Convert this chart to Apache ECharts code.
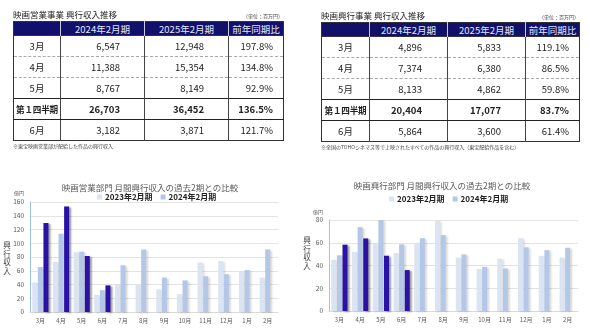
<!DOCTYPE html>
<html>
<head>
<meta charset="utf-8">
<script src="https://cdn.jsdelivr.net/npm/echarts@6/dist/echarts.min.js"></script>
<style>
  html, body { margin: 0; padding: 0; background: #fff; }
  #wrap { position: relative; width: 590px; height: 335px; overflow: hidden;
          font-family: 'Noto Sans CJK JP', 'Noto Sans', sans-serif; }
  #chart { position: absolute; left: 0; top: 0; width: 590px; height: 335px; }
  .ttl { position: absolute; font-size: 8.5px; color: #222; white-space: nowrap; }
  .unit { position: absolute; font-size: 5px; color: #444; white-space: nowrap; }
  .note { position: absolute; font-size: 5px; color: #444; white-space: nowrap; }
  table.tb { position: absolute; border-collapse: collapse; table-layout: fixed;
             border: 1px solid #333; font-size: 9.5px; line-height: 12px; color: #222; }
  table.tb th { background: #11116c; color: #e4e6f5; font-weight: normal; height: 13px;
                padding: 0; border-left: 1px solid #c9cce0; text-align: center; white-space: nowrap; }
  table.tb th:first-child { border-left: none; }
  table.tb td { height: 20px; padding: 0; border-left: 1px solid #444; white-space: nowrap;
                border-top: 1px dashed #aaa; text-align: right; overflow: hidden; }
  table.tb td:first-child { text-align: center; border-left: 1px solid #333; }
  table.tb tr.q td { border-top: 1px solid #222; border-bottom: 1px solid #222; font-weight: bold; }
  table.tb tr.q td:first-child { font-size: 8.6px; letter-spacing: -0.2px; }
  table.tb tr.first td { border-top: 1px solid #333; }
</style>
</head>
<body>
<div id="wrap">
  <div id="chart"></div>
</div>
<script>
// ---- table data (百万円) ----
const tableRows   = ['3月', '4月', '5月', '第１四半期', '6月'];
const tableHeads  = ['', '2024年2月期', '2025年2月期', '前年同期比'];
const salesPrev   = [6547, 11388, 8767, 26703, 3182];
const salesCur    = [12948, 15354, 8149, 36452, 3871];
const salesRatio  = [197.8, 134.8, 92.9, 136.5, 121.7];
const showPrev    = [4896, 7374, 8133, 20404, 5864];
const showCur     = [5833, 6380, 4862, 17077, 3600];
const showRatio   = [119.1, 86.5, 59.8, 83.7, 61.4];

// ---- chart data (億円) ----
const months = ['3月', '4月', '5月', '6月', '7月', '8月', '9月', '10月', '11月', '12月', '1月', '2月'];
const sales2023 = [43, 73, 87, 25, 40, 40, 33, 26, 72, 74, 59, 50];
const sales2024 = [65.5, 113.9, 87.7, 31.8, 68, 91, 50, 46, 52, 55, 61, 91];
const sales2025 = [129.5, 153.5, 81.5, 38.7, null, null, null, null, null, null, null, null];
const show2023  = [45, 52, 60, 51, 60, 79, 47, 37, 46, 64, 48.5, 47];
const show2024  = [49, 73.7, 81.3, 58.6, 64, 66.8, 49.7, 38.8, 37.4, 56, 53.5, 55.6];
const show2025  = [58.3, 63.8, 48.6, 36.0, null, null, null, null, null, null, null, null];
const salesTicks = [0, 160, 20];
const showTicks  = [0, 80, 20];

const wrap = document.getElementById('wrap');

function fmt(n) { return n.toLocaleString('en-US'); }

function addTable(cfg) {
  const t = document.createElement('div');
  t.className = 'ttl';
  t.style.left = cfg.x + 'px'; t.style.top = (cfg.y - 13) + 'px';
  t.textContent = cfg.title;
  wrap.appendChild(t);

  const u = document.createElement('div');
  u.className = 'unit';
  u.style.right = (590 - cfg.x - cfg.widths.reduce((a, b) => a + b, 0)) + 'px';
  u.style.top = (cfg.y - 9) + 'px';
  u.textContent = '（単位：百万円）';
  wrap.appendChild(u);

  const tb = document.createElement('table');
  tb.className = 'tb';
  tb.style.left = cfg.x + 'px'; tb.style.top = cfg.y + 'px';
  let html = '<colgroup>' + cfg.widths.map(w => `<col style="width:${w}px">`).join('') + '</colgroup>';
  html += '<tr>' + tableHeads.map(h => `<th>${h}</th>`).join('') + '</tr>';
  tableRows.forEach((r, i) => {
    const cls = i === 3 ? 'q' : (i === 0 ? 'first' : '');
    html += `<tr class="${cls}"><td>${r}</td>` +
      `<td style="padding-right:${cfg.pad[0]}px">${fmt(cfg.prev[i])}</td>` +
      `<td style="padding-right:${cfg.pad[1]}px">${fmt(cfg.cur[i])}</td>` +
      `<td style="padding-right:${cfg.pad[2]}px">${cfg.ratio[i].toFixed(1)}%</td></tr>`;
  });
  tb.innerHTML = html;
  wrap.appendChild(tb);

  const n = document.createElement('div');
  n.className = 'note';
  n.style.left = cfg.x + 'px'; n.style.top = (cfg.y + 121) + 'px';
  n.textContent = cfg.note;
  wrap.appendChild(n);
}

addTable({ x: 13, y: 21, widths: [47, 84, 84, 55], pad: [24, 24, 10],
  title: '映画営業事業 興行収入推移', prev: salesPrev, cur: salesCur, ratio: salesRatio,
  note: '※東宝映画営業部が配給した作品の興行収入' });
addTable({ x: 321, y: 22, widths: [48, 78, 78, 54], pad: [25, 24, 10],
  title: '映画興行事業 興行収入推移', prev: showPrev, cur: showCur, ratio: showRatio,
  note: '※全国のTOHOシネマズ等で上映されたすべての作品の興行収入（東宝配給作品を含む）' });

const LIGHT = '#dbe4f3', MID = '#b4c7e7', DARK = '#2b12a6';
const font = 'Noto Sans CJK JP';

function xAxisFor(idx) {
  return {
    gridIndex: idx, type: 'category', data: months,
    axisLine: { lineStyle: { color: '#d9d9d9' } },
    axisTick: { show: false },
    axisLabel: { fontSize: 6, color: '#595959', margin: 6 },
  };
}
function yAxisFor(idx, ticks) {
  return {
    gridIndex: idx, type: 'value', min: ticks[0], max: ticks[1], interval: ticks[2],
    axisLine: { show: true, lineStyle: { color: '#9dc3e6' } },
    axisTick: { show: false },
    splitLine: { lineStyle: { color: '#e3e3e3' } },
    axisLabel: { fontSize: 6.5, color: '#595959', margin: 6 },
  };
}
function barSeries(name, data, color, idx, shadow) {
  return {
    name, type: 'bar', data, xAxisIndex: idx, yAxisIndex: idx,
    barWidth: 5, barGap: '12%',
    itemStyle: { color, shadowColor: shadow, shadowBlur: 2, shadowOffsetX: 2, shadowOffsetY: 1 },
    emphasis: { disabled: true },
  };
}
function vText(x, y) {
  return { type: 'text', x, y, style: { text: '興\n行\n収\n入', fontSize: 7.5, lineHeight: 8.5,
    fill: '#404040', textAlign: 'center', textVerticalAlign: 'middle', fontFamily: font } };
}

const chart = echarts.init(document.getElementById('chart'), null, { renderer: 'canvas' });
chart.setOption({
  animation: false,
  textStyle: { fontFamily: font },
  grid: [
    { left: 30, right: 312, top: 202, bottom: 23 },
    { left: 329, right: 12, top: 220, bottom: 24 },
  ],
  legend: [
    { data: ['2023年2月期', '2024年2月期'], left: 97, top: 193, padding: 0,
      icon: 'rect', itemWidth: 5, itemHeight: 5, itemGap: 8,
      textStyle: { fontSize: 8, fontWeight: 'bold', color: '#222', padding: [0, 0, 0, -2] } },
    { data: ['2023年2月期', '2024年2月期'], left: 389, top: 195, padding: 0,
      icon: 'rect', itemWidth: 5, itemHeight: 5, itemGap: 8,
      textStyle: { fontSize: 8, fontWeight: 'bold', color: '#222', padding: [0, 0, 0, -2] } },
  ],
  graphic: [
    { type: 'text', x: 150, y: 184, style: { text: '映画営業部門 月間興行収入の過去2期との比較',
      fontSize: 8.5, fill: '#595959', textAlign: 'center', fontFamily: font } },
    { type: 'text', x: 442, y: 182, style: { text: '映画興行部門 月間興行収入の過去2期との比較',
      fontSize: 8.5, fill: '#595959', textAlign: 'center', fontFamily: font } },
    { type: 'text', x: 14, y: 191, style: { text: '億円', fontSize: 5, fill: '#595959', fontFamily: font } },
    { type: 'text', x: 313, y: 210, style: { text: '億円', fontSize: 5, fill: '#595959', fontFamily: font } },
    vText(7, 258),
    vText(307, 253),
  ],
  xAxis: [xAxisFor(0), xAxisFor(1)],
  yAxis: [yAxisFor(0, salesTicks), yAxisFor(1, showTicks)],
  series: [
    barSeries('2023年2月期', sales2023, LIGHT, 0, 'rgba(0,0,0,0.12)'),
    barSeries('2024年2月期', sales2024, MID, 0, 'rgba(0,0,0,0.15)'),
    barSeries('2025年2月期', sales2025, DARK, 0, 'rgba(0,0,0,0.4)'),
    barSeries('2023年2月期', show2023, LIGHT, 1, 'rgba(0,0,0,0.12)'),
    barSeries('2024年2月期', show2024, MID, 1, 'rgba(0,0,0,0.15)'),
    barSeries('2025年2月期', show2025, DARK, 1, 'rgba(0,0,0,0.4)'),
  ],
});
</script>
</body>
</html>
